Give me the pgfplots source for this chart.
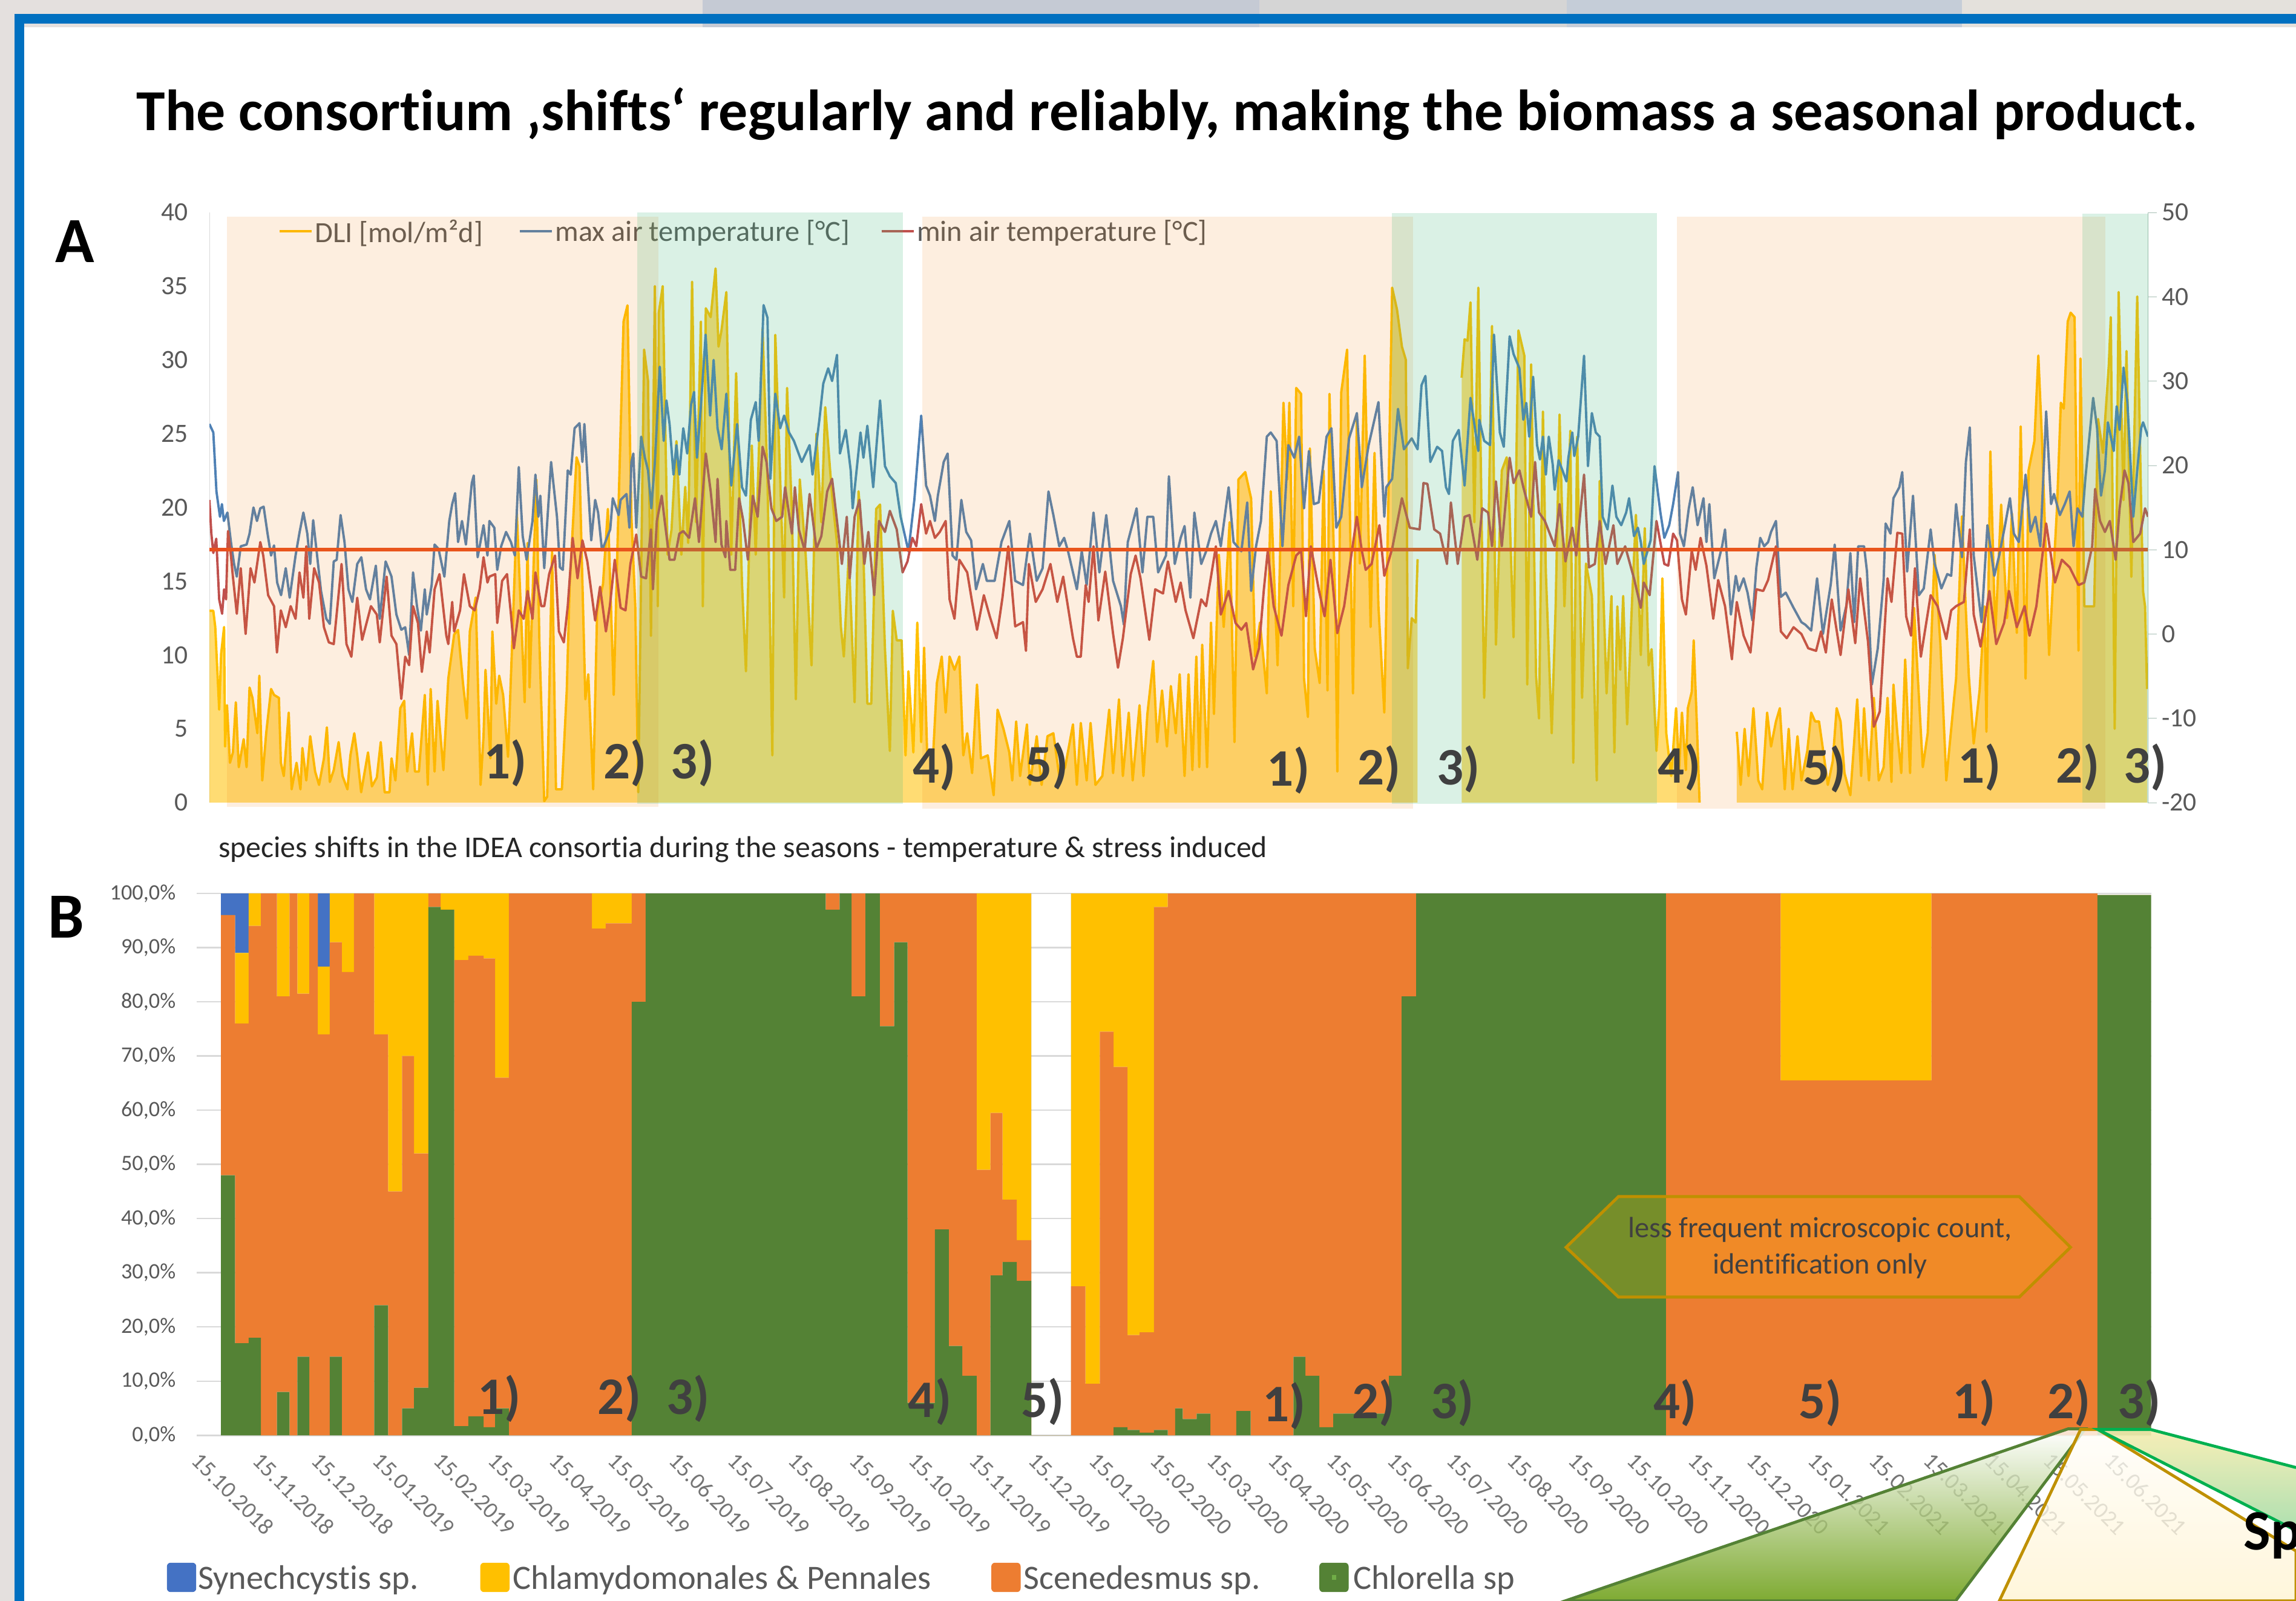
\documentclass[border=0pt]{standalone}
\usepackage{pgfplots}
\usepackage{pgfplotstable}
\usepackage{fontspec}
\setmainfont{Carlito}[Ligatures=NoCommon]
\pgfplotsset{compat=1.18}
\definecolor{dlicol}{HTML}{FFC000}
\definecolor{maxcol}{HTML}{4F81B5}
\definecolor{mincol}{HTML}{C0504D}
\definecolor{refcol}{HTML}{E8501F}
\definecolor{txt}{HTML}{595959}
\definecolor{num}{HTML}{404040}
\definecolor{bo}{HTML}{F07C09}
\definecolor{bg}{HTML}{46B97D}
\definecolor{cblue}{HTML}{4472C4}
\definecolor{cyel}{HTML}{FFC000}
\definecolor{cora}{HTML}{ED7D31}
\definecolor{cgre}{HTML}{548235}
\definecolor{frame}{HTML}{0070C0}
\definecolor{bgA}{HTML}{E4E0DE}
\definecolor{bgB}{HTML}{C5CAD4}
\definecolor{bgC}{HTML}{D5D5D5}
\definecolor{bgD}{HTML}{C5CDD8}
\definecolor{bgE}{HTML}{E4E1DC}
\definecolor{gD}{HTML}{D9D9D9}
\definecolor{gA}{HTML}{A8BFB5}
\definecolor{gDark}{HTML}{262626}
\definecolor{gDate}{HTML}{757575}
\definecolor{gold}{HTML}{BF9000}
\definecolor{calgreen}{HTML}{5F9600}
\definecolor{calmid}{HTML}{DCE6CC}
\definecolor{cream}{HTML}{FFF4D2}
\definecolor{creamtop}{HTML}{FFFEFA}
\definecolor{pale}{HTML}{F7EDB0}
\definecolor{mint}{HTML}{A5DDA8}
\definecolor{brightgreen}{HTML}{00B050}
\definecolor{dot}{HTML}{70AD47}
\newcommand{\fs}[1]{\fontsize{#1}{#1}\selectfont}
\pgfplotstableread[row sep=\\]{
x y\\
0 13\\2 13\\3 11.9\\5 6.3\\6 10.1\\7.5 11.9\\8 3.8\\9 6.6\\10.5 2.7\\12 3.4\\13.5 6.8\\15 2.4\\17.5 4.3\\19 2.4\\20.5 7.8\\22 7.1\\24.5 4.7\\25.5 8.6\\27 1.5\\29 4.7\\31.5 7.7\\33 7.3\\35.5 7.1\\36.5 2.7\\38 1.8\\40.5 6.1\\42 .9\\44.5 2.7\\46.5 .9\\47.5 3.7\\49.5 1.5\\51.5 4.5\\54 2.1\\56 1.2\\58.5 3\\60 5.1\\61.5 1.4\\63.5 2.2\\66 4.1\\68 1.8\\70.5 .9\\72 3.2\\74 4.7\\75.5 3.2\\77.5 .7\\81 3.4\\83 1.1\\85.5 1.7\\87.5 4.1\\89.5 .7\\92 .7\\93 3\\95 1.5\\97.5 6.4\\99.5 6.9\\101 2.1\\103.5 4.7\\105 2.1\\107 2.1\\110 7.3\\111.5 1.2\\113 7.7\\115 2.1\\116.5 6.9\\119.5 2.2\\122 8.4\\125 11.4\\127 11.7\\129.5 8.1\\131.5 5.7\\133 11.6\\136 13.9\\138.5 1.2\\140 4.5\\141 9\\143.5 3\\144.5 11.6\\146.5 6.7\\148 8.6\\150 7.3\\152.5 3.1\\154.5 10.4\\157 19.6\\159 13.3\\161 6.8\\162.5 17.6\\163.5 7.8\\167 21.9\\168.5 11\\171 .1\\172.5 .4\\175 17\\177 .9\\180 .9\\182.5 7.6\\184 14.8\\187.5 23.4\\189 22.8\\192 7\\193.5 8.7\\196 .9\\198 13\\201 14.8\\203.5 19.9\\206.5 7.3\\208.5 17.9\\211.5 32.6\\213.5 33.7\\215.5 19.4\\217.5 13.3\\219 .7\\222 30.7\\224 28.6\\225.5 11.3\\227.5 35\\229 13.3\\229.5 33.2\\231.5 35\\234 16.8\\236 18.5\\238.5 24.5\\241 16.8\\243 21.4\\244.5 17.6\\246.5 35.3\\248.5 19\\251 32.6\\252 13.3\\253.5 33.5\\256 32.9\\258.5 36.2\\260 30.9\\261.5 32\\
264 34.6\\266.5 16.8\\269 29.1\\272 14.8\\274 8.9\\277 24.2\\279 16.8\\282.5 32.1\\285 21.9\\287.5 3.2\\289 31.7\\291.5 21.9\\293.5 13.9\\295 28.1\\297.5 19.6\\299.5 7\\301.5 21.9\\304.5 16.8\\307.5 9.3\\310 25\\312.5 19\\314.5 26.8\\318 20.8\\320.5 17.6\\322.5 11.9\\324 9.9\\326.5 16.8\\329.5 6.8\\331.5 21.1\\334 16.8\\336 6.7\\338 6.7\\340.5 19.9\\342.5 20.2\\345 10.4\\347.5 3.5\\349 13\\351 11\\353.5 11\\355.5 3.2\\357 8.9\\359.5 3.4\\361.5 12.2\\363.5 4.1\\365 10.5\\366.5 3.5\\369.5 3\\371.5 8.1\\374 9.9\\376 6.1\\378 9.9\\380.5 9\\383 9.9\\385 3.2\\387 4.7\\389.5 2\\392 8\\394 3\\397.5 3.2\\400.5 .5\\402.5 6.3\\405.5 5\\408.5 3.4\\410 1.5\\412 5.5\\414 1.8\\417.5 5.3\\419 1.2\\422.5 4.5\\425 1.2\\428 4.5\\431 4.7\\434 1.8\\437 2.4\\441 5.3\\443 1.2\\445 5.4\\448 1.5\\450 5.4\\452.5 1.2\\456 1.8\\459.5 6.3\\461.5 2\\464.5 7\\466.5 1.8\\469.5 6.1\\471.5 1.5\\475 6.6\\477 1.8\\479 6\\482 9.6\\484 4.1\\486.5 7.6\\489 3.8\\491 7.9\\493.5 4.7\\495.5 8.7\\498 1.8\\500 8.7\\502 2.2\\504 9.9\\505.5 2.4\\507 10.7\\509.5 2.4\\511.5 12.2\\513 6\\515.5 16.8\\518 11.9\\521 19\\523.5 4.1\\525.5 21.9\\529 22.4\\532 20.6\\534 9.9\\536.5 12.2\\540 7.4\\542 21.1\\545.5 9.3\\548.5 27.1\\550.5 21.9\\551.5 27.1\\553.5 13.3\\555 28.1\\557.5 27.7\\559 8.4\\561 5.8\\562 24\\564.5 10.4\\567 8.1\\569 22.5\\571 7.6\\572 27.7\\575 13.3\\576 2.1\\578 27.8\\581 30.7\\584 7.4\\586 26.3\\587.5 16.2\\590 30.3\\593 11.9\\595 23.7\\597 13.3\\600 6.1\\602 19.9\\604 34.9\\606.5 33.4\\609 30.9\\611 30\\612 9.1\\614 12.5\\616 12.2\\617 16.5\\
}\dliA
\pgfplotstableread[row sep=\\]{
x y\\
639.5 28.8\\641 31.4\\642.5 31.3\\644 33.9\\646 19\\648 34.9\\651 7.1\\653 16.8\\655 32.3\\657 10.7\\660 22.5\\662.5 23.4\\664 19.6\\666 11.2\\668.5 32\\671.5 30.3\\673 8\\675 29.7\\677.5 8.6\\679 5.7\\681 26.5\\682.5 15.6\\685.5 4.7\\687.5 13.3\\689.5 26.3\\692 13.3\\695 25.2\\696.5 2.7\\698.5 24.8\\701 7.1\\703 16.2\\706 14\\708.5 1.5\\710 21.8\\713.5 7.4\\716 14\\717.5 3.4\\719 13.3\\720.5 9\\722 14\\724 5.3\\726.5 13.6\\728.5 19.5\\731 10\\733 18.6\\735 9.3\\736.5 10.4\\739 3.5\\740.5 6.8\\742 15.2\\744 4.7\\746.5 1.8\\749 6.4\\750.5 2.2\\752 6.1\\754 2.2\\755 6.4\\757 7.5\\758 11\\759.5 5.7\\761 0\\
}\dliB
\pgfplotstableread[row sep=\\]{
x y\\
780 4.8\\782 1.2\\784 5\\786 1.8\\788.5 6.4\\791 1.5\\793 .9\\795.5 6.1\\797.5 3.8\\800 5.5\\802 6.4\\804.5 .9\\806.5 5\\808.5 .9\\811 4.5\\813 1.5\\816 3.5\\818 6.1\\820 5.5\\822 5.5\\823.5 4.1\\826.5 1.2\\829 2.8\\831 6.4\\833 5.5\\835 2\\838 .5\\841.5 7\\843.5 1.8\\845 6.4\\847.5 1.5\\850 7.1\\852.5 1.5\\855 2.4\\857 7.1\\859 1.4\\860 8\\862 4.7\\864 2\\866 9.7\\868.5 2\\870.5 13.2\\875 2.4\\877.5 4.7\\881 16.8\\884 10.7\\887 1.5\\891 7.1\\892 8.4\\895 19.4\\897 13\\898.5 8.6\\901 4\\904 7.6\\906.5 13.3\\907.5 4.8\\909.5 23.8\\912 11.3\\915 20.2\\918 12.5\\920.5 19.6\\923 11.5\\925 25.5\\927.5 8.4\\929 22.5\\932 24.5\\934 30.3\\936 24.2\\939.5 10\\943.5 19.9\\945.5 27.1\\947 26.7\\949 32.6\\950.5 33.2\\952.5 32.9\\954.5 10.3\\955.5 30.1\\957.5 13.3\\959.5 13.3\\962.5 13.3\\964.5 26\\967 23.7\\970 29.7\\971 32.9\\973 5\\975 34.6\\977.5 20.5\\979 30.6\\981.5 15.3\\984.5 34.3\\986.5 20.2\\987.5 14.3\\988.5 13.3\\989.5 7.7\\
}\dliC
\pgfplotstableread[row sep=\\]{
x y\\
0 24.9\\2 23.9\\3.6 16.9\\5.4 13.9\\6.4 15.4\\7.4 13.4\\9.2 14.4\\11 10.9\\12.6 8.3\\14 6.8\\16 10.4\\19 10.6\\20.5 11.9\\22.5 15\\24.3 13.4\\26 14.9\\27.7 15.1\\29.7 11.9\\31.5 9.3\\33 10.5\\34.6 6.1\\36.6 4.6\\39 7.8\\41 4.3\\44 9.3\\46 12\\48 14.4\\50 11.9\\51.5 8.3\\53 13.5\\55 9.3\\57 5.1\\59.7 1.8\\61.5 1.2\\63.5 8.6\\65 8.8\\67 14.1\\69 10.9\\71 5.3\\73 3.8\\75.5 8.3\\77.6 9.1\\80 5.3\\82 4.1\\85 8.1\\87 1.8\\90 8.6\\93 6.8\\95.5 2.3\\98 .5\\100 .8\\102 -2.5\\104 7.3\\106 3.3\\108 .4\\110 5.3\\111 2.3\\113.5 5.8\\115 10.6\\117 10.1\\120 6.8\\122.5 13.4\\124 15.4\\125.5 16.7\\127 10.9\\129 13.4\\131 10.6\\134 17.9\\135 18.8\\137 9.1\\140 12.9\\142 9.3\\143 13.4\\145.5 12.6\\147 7.6\\149 10.4\\151.5 12.1\\154 10.9\\156 9.3\\158 19.8\\160 11.6\\162 8.8\\165 13.4\\166.5 18.9\\168 13.9\\169 16.4\\171 7.8\\174.5 20.4\\177.5 13.9\\179 7.9\\180.5 7.6\\183 19.4\\184.5 18.9\\186.5 24.4\\189 25\\190.5 20.4\\191.5 24.9\\195 11.1\\197 15.9\\198.5 14.4\\200.5 9.9\\203 11.4\\204.7 12.4\\206 16.1\\209 14.1\\210 15.9\\213 16.6\\214.5 12.6\\215.5 20.4\\216.5 21.4\\218 12.6\\220.5 23.4\\222.4 20.9\\224 19.4\\225.7 14.9\\227.5 20.4\\230 31.7\\232 22.9\\233.4 27.7\\235 24.9\\237 18.9\\238.5 22.4\\240 18.9\\242 24.4\\244 21.4\\246 27.2\\247.5 28.7\\249 20.9\\251 27\\253.4 35.5\\255.7 25.9\\257.5 32.5\\259.5 24.4\\261.6 21.9\\
264 28.5\\266.5 17.6\\269.5 24.9\\272 17.4\\274 16.4\\276.5 25.4\\279 27.5\\280.5 22.9\\283 39\\285 37.5\\286.5 18.4\\289 28.5\\291.5 24.4\\293.5 25.9\\296 23.9\\298.5 22.9\\302.5 20.4\\306.5 22.4\\308 18.9\\311.5 25.4\\313.5 29.7\\316 31.5\\318 30\\320.5 33.1\\322 21.4\\325 24.2\\327.5 19.4\\328.5 14.9\\332.5 23.9\\334 20.9\\336 24.7\\339 17.4\\342.5 27.7\\345 19.9\\347.5 18.7\\350.5 17.9\\353 13.9\\357 9.8\\360 15.9\\363.5 25.9\\366 17.6\\368 16.4\\370.5 13.4\\372 16.4\\375 20.4\\377 21.4\\379.5 9.3\\381.5 8.8\\384 15.9\\386.5 12.1\\389 11.1\\391.5 5.3\\395 8.3\\397 6.3\\401 6.3\\404.5 10.9\\408.5 13.4\\411.5 6.3\\415.5 5.8\\419 11.9\\422.5 6.3\\425.5 7.8\\428.5 16.9\\431 14.1\\434 10.4\\436.5 11.4\\438.5 9.8\\443 5.3\\445.5 9.8\\448 5.8\\451.5 14.4\\454.5 7.3\\458 14.1\\461.5 6.3\\465.5 3.3\\467 1.1\\469 10.9\\473.5 14.9\\476.5 7.3\\479 13.9\\482 13.9\\484.5 7.3\\488.5 9.3\\490 18.7\\493 8.3\\496 11.4\\498 12.8\\501 4.3\\503 14.4\\506.5 8.3\\509 9.8\\511.5 11.9\\514 13.4\\516.5 10.4\\520.5 17.4\\523 10.9\\527 9.8\\530 15.6\\532 5.1\\534.5 10.4\\537 13.4\\540 23.4\\542 23.9\\545 22.9\\548 10.4\\551 22.4\\554 20.9\\556.5 23.4\\559 14.9\\561.5 21.7\\564 15.4\\566.5 15.6\\570.5 23.4\\573 24.4\\575.5 12.6\\578 13.9\\582 23.2\\586 26.2\\588.5 17.4\\592 22.4\\597 27.5\\600 13.9\\601 17.4\\604 18.4\\607 26.7\\610 21.9\\614 23.2\\617 21.9\\619 29.5\\621 30.6\\623.5 20.4\\627 22.2\\629.5 21.7\\631.5 17.4\\633 16.6\\635 22.9\\638 24.2\\641 17.6\\644 28\\648 21.7\\648.5 25.4\\651 22.9\\654 22.4\\656 35.5\\659 23.9\\661 22.2\\
664 35.3\\666 33.2\\669 31.5\\671 25.4\\672.5 27.4\\674 23.4\\676 30.5\\678 22.4\\679.5 20.7\\681 23.4\\682.5 18.9\\684 23.4\\686 20.1\\687 17.1\\689 20.6\\691 19.4\\693 18.1\\694 20.9\\696 23.9\\697 21.1\\699 23.4\\702 33\\704 19.9\\706 26.2\\708 23.9\\710 23.4\\711.5 13.9\\714 12.4\\716.5 17.6\\718.5 13.9\\721 12.9\\723.5 14.4\\725 16.1\\727.5 11.6\\729.5 12.6\\731 10.9\\732.5 8.3\\736 11.1\\738 19.9\\741 14.4\\743 11.4\\745.5 12.9\\747.5 15.4\\750 19.2\\751 11.9\\753 10.4\\755.5 14.9\\757.5 17.4\\760 12.9\\763 16.1\\764.5 10.9\\766 15.4\\768.5 6.6\\772.5 10.4\\774 12.4\\777 2.3\\779.5 6.9\\781 5.1\\783.5 6.6\\785.5 4.9\\788 1.6\\790 7.9\\792 11.4\\794 10.4\\796 10.9\\797.5 12.1\\800 13.4\\802.5 4.4\\805 4.9\\809 3.1\\813 1.4\\815 1.1\\818 .4\\821 6.6\\824 0\\828 5.9\\830 10.6\\833 .4\\836 3.4\\838 9.6\\840 1.4\\842 10.4\\845 10.4\\846.5 7.4\\849 -6\\852 -1.7\\855 6.4\\856 13.1\\858.5 11.9\\860 16.1\\863 17.4\\864.5 19.2\\867 7.4\\870 16.4\\873 4.6\\875.5 5.4\\879 12.4\\881 8.4\\884.5 5.4\\887.5 7.1\\889.5 6.9\\892 15.4\\895 9.1\\897 20.4\\899 24.5\\901 9.3\\905 1.4\\908 12.9\\911.5 6.9\\914 9.3\\917 12.9\\919.5 16.1\\921.5 11.9\\924 10.9\\927.5 18.9\\930 12.1\\932.5 13.9\\935 10.4\\938 26.4\\940.5 15.4\\942 16.6\\945 14.1\\947.5 15.4\\950 16.9\\952 10.4\\954 14.9\\956.5 13.9\\958 18.4\\962 28\\964 24.4\\966 16.4\\968 19.4\\969.5 25.1\\972.5 21.7\\974 27\\975.5 24.2\\977.5 31.6\\979.5 27.4\\982.5 13.9\\984.5 19.4\\986.5 24.4\\987.5 25.1\\990 23.4\\
}\tmax
\pgfplotstableread[row sep=\\]{
x y\\
0 15.9\\1 11.9\\2 9.6\\3.5 11.3\\5 4.1\\6.5 2.4\\7.5 5.3\\8.5 4.1\\9.5 12.2\\11 9.3\\12 6.8\\14 2.4\\16 7.8\\18.5 0\\21 7.8\\23 6.1\\26 10.9\\27.5 9.3\\30 4.6\\33 3.3\\34.5 -2.2\\36.5 2.8\\39 .8\\41.5 3.3\\44 1.8\\46 7.3\\48 4.3\\49.5 10.4\\51 1.8\\53.5 7.8\\56 6.1\\58.5 .8\\61 -1\\63.5 -1.2\\67.5 8.3\\70 -1.2\\72.5 -2.7\\75.5 4.3\\78 -.7\\82.5 3.3\\85.5 2.3\\87 -1\\90.5 6.8\\93 -.2\\95.5 -1.2\\98 -7.7\\100 -2.7\\102 -3.7\\104 3.3\\106.5 1.3\\108.5 -4.5\\111 .3\\112.5 -2.2\\115 5.3\\117.5 7.1\\121 -.2\\122 -1.2\\124 3.8\\125 .3\\128 2.8\\130 7.1\\133 3.3\\135.5 2.8\\138 5.3\\140 9.1\\142 6.1\\143 6.8\\146 7.1\\147 1.3\\149.5 6.3\\152 7.1\\154 2.3\\155.5 -1.7\\158 2.8\\160.5 1.8\\162.5 5.1\\165 1.8\\166.5 7.3\\169.5 3.3\\171 3.3\\173.5 7.1\\176.5 9.3\\178.5 .3\\181 -1\\183 3.3\\185.5 11.4\\188 6.6\\190.5 11.1\\193 8.6\\197 1.6\\199.5 5.6\\202.5 .3\\204.5 3.3\\207 8.8\\210 3.1\\212.5 2.8\\215 8.3\\218 11.8\\220.5 6.8\\223 6.6\\225.5 12.4\\226.5 5.3\\228.5 13.4\\231 16.4\\232.5 13.4\\235 8.8\\237.5 8.8\\240 11.9\\242 12.2\\245 11.4\\248 16.1\\250 10.9\\253.5 21.4\\256 16.9\\258.5 10.9\\259.5 18.4\\261.5 10.6\\263.5 9.1\\
264 13.4\\266 7.6\\268.5 7.6\\270.5 16.1\\272.5 13.6\\275 8.8\\277.5 16.4\\280 13.9\\282.5 22.2\\284.5 20.4\\287 14.9\\289.5 13.4\\292.5 13.9\\294 17.4\\297.5 11.9\\299 17.4\\301 12.4\\304 9.9\\306.5 16.6\\310 10.1\\312.5 11.6\\315.5 16.9\\318 18.4\\320.5 13.4\\323 8.3\\325.5 13.9\\327 6.6\\329.5 13.9\\332 15.9\\334.5 8.3\\336.5 12.1\\339.5 4.6\\342 13.4\\345 12.1\\347.5 14.6\\351 12.4\\354 7.3\\356.5 8.6\\359 11.4\\361 10.4\\363.5 15.4\\366 11.9\\368 13.4\\370.5 11.4\\373 12.1\\376 13.4\\378 4.1\\380.5 1.8\\383 8.8\\387 7.3\\389.5 3.8\\392 .5\\395.5 4.6\\398.5 2.1\\402 -.5\\405 4.3\\408 10.4\\411.5 .9\\415.5 1.4\\417 -2\\418.5 8.3\\422 3.8\\425.5 5.3\\429.5 8.3\\433 3.8\\436 6.8\\441 -.5\\443 -2.7\\445 -2.7\\447.5 5.8\\449 3.8\\451.5 10.4\\454 1.6\\457.5 7.4\\461.5 0\\464 -4\\466.5 -.5\\470.5 7.1\\473 9.3\\475.5 6.6\\480 -.7\\483 5.3\\487 4.8\\489.5 8.6\\493.5 3.8\\496 6.1\\498.5 2.8\\502.5 -.5\\506.5 4.1\\509 3.3\\511.5 6.8\\514 10.4\\516.5 2.3\\520.5 5.1\\524 1.3\\527 .5\\529.5 1.3\\533 -4.2\\536 -1.7\\538.5 5.3\\540.5 9.9\\543.5 3.3\\547.5 -.2\\551 5.8\\555 9.3\\557.5 9.9\\560 2.1\\562.5 10.4\\566.5 5.3\\569.5 2.1\\572.5 8.8\\576 .1\\579.5 3.3\\582.5 8.3\\586 13.9\\588.5 9.9\\590.5 7.6\\593.5 8.3\\597.5 12.9\\600 6.9\\604 10.1\\609 16.1\\613 12.6\\618 12.4\\620 17.9\\622 17.8\\625.5 12.4\\628.5 11.9\\632 8.3\\634 15.6\\637.5 8.3\\641 13.9\\643.5 14.1\\647.5 8.8\\650 14.9\\653 14.4\\655 10.4\\657 18.1\\660 10.4\\664 20.9\\666 17.9\\669 19.4\\671 17.4\\675 13.9\\677 20.4\\679 14.4\\682 13.4\\684.5 11.9\\687 10.4\\689.5 15.4\\692.5 8.6\\696 12.6\\698 9.3\\702 18.9\\704.5 7.9\\707.5 8.3\\710 13.4\\713 8.3\\717 12.9\\719 8.3\\723 10.4\\727.5 6.6\\731 3.1\\732.5 6.1\\735.5 4.6\\739 13.4\\743 8.3\\745 8.1\\747.5 11.9\\749.5 11.1\\752 4.1\\754 2.3\\757 9.9\\759 7.6\\761.5 11.4\\764.5 8.1\\768 1.8\\770.5 6.4\\774 3.3\\777.5 -3\\780 3.8\\783.5 -.2\\787 -2.2\\790 5.3\\793.5 5.1\\796 6.4\\800 10.4\\802.5 .3\\805.5 -.5\\809 .8\\813 0\\816.5 -1.7\\820.5 -2\\823 .3\\825.5 -2.2\\828.5 4.1\\833 -2.5\\837 5.3\\840.5 -1.1\\843 6.6\\847 -.9\\850 -11\\853 -9.2\\857 6.6\\859 3.8\\862 12\\864.5 11.9\\866.5 2.1\\869 -.2\\871 7.8\\874 -2.7\\879 4.6\\882.5 3.3\\887 -.6\\889.5 2.8\\892 3.3\\896 3.8\\899 12.4\\901 2.3\\904.5 -1.5\\909 5.1\\912.5 -1.2\\916.5 1.3\\919 5.1\\923 .8\\927 3.3\\929.5 -.2\\933 3.3\\938 13.1\\942.5 6.1\\946 8.8\\950 7.9\\954.5 5.8\\957.5 6.1\\961.5 10.4\\963 17.2\\965.5 13.4\\968 12.1\\970.5 13.4\\973.5 8.8\\975.5 14.9\\978 19.4\\980 17.9\\982.5 10.9\\986 11.9\\988.5 14.9\\990 13.9\\
}\tmin
\pgfplotstableread[row sep=\\]{
x g o c b\\
0.7 48 48 0 4\\7.8 17 59 13 11\\14.8 18 76 6 0\\21 0 100 0 0\\29.2 8 73 19 0\\35.6 0 100 0 0\\39.6 14.5 67 18.5 0\\45.7 0 100 0 0\\50 0 74 12.5 13.5\\56.1 14.5 76.5 9 0\\62.2 0 85.5 14.5 0\\68.4 0 100 0 0\\78.7 24 50 26 0\\85.8 0 45 55 0\\92.9 5 65 30 0\\99 8.8 43.2 48 0\\106.3 97.5 2.5 0 0\\112.5 97 0 3 0\\119.5 1.7 86 12.3 0\\126.6 3.5 85 11.5 0\\134.4 1.5 86.5 12 0\\140.3 5 61 34 0\\147.3 0 100 0 0\\189.6 0 93.5 6.5 0\\196.6 0 94.5 5.5 0\\209.8 80 20 0 0\\216.9 100 0 0 0\\308.6 97 3 0 0\\315.7 100 0 0 0\\321.8 81 19 0 0\\328.9 100 0 0 0\\336.2 75.5 24.5 0 0\\343.5 91 9 0 0\\350.3 6 94 0 0\\364.2 38 62 0 0\\371.3 16.5 83.5 0 0\\378.2 11 89 0 0\\385.5 0 49 51 0\\392.5 29.5 30 40.5 0\\398.7 32 11.5 56.5 0\\405.9 28.5 7.5 64 0\\413.3 0 0 0 0\\433.6 0 27.5 72.5 0\\440.9 0 9.5 90.5 0\\448.2 0 74.5 25.5 0\\455.2 1.5 66.5 32 0\\462.3 1 17.5 81.5 0\\468.5 .5 18.5 81 0\\475.8 1 96.5 2.5 0\\482.8 0 100 0 0\\486.6 5 95 0 0\\490.4 3 97 0 0\\497.5 4 96 0 0\\504.5 0 100 0 0\\517.7 4.5 95.5 0 0\\525 0 100 0 0\\546.8 14.5 85.5 0 0\\552.9 11 89 0 0\\560 1.5 98.5 0 0\\567.1 4 96 0 0\\595.4 11 89 0 0\\601.9 81 19 0 0\\609.3 100 0 0 0\\736.5 0 100 0 0\\794.9 0 65.5 34.5 0\\871.7 0 100 0 0\\956.2 99.7 0 0 0\\983.6 99.7 0 0 0\\
}\shares
\begin{document}
\begin{tikzpicture}[x=1pt,y=-1pt]
\path[use as bounding box,clip] (0,0) rectangle (1568,1093);
\fill[white] (0,0) rectangle (1568,1093);
\fill[bgA] (0,0) rectangle (480,18.6);
\fill[bgB] (480,0) rectangle (860,18.6);
\fill[bgC] (860,0) rectangle (1070,18.6);
\fill[bgD] (1070,0) rectangle (1340,18.6);
\fill[bgE] (1340,0) rectangle (1568,18.6);
\fill[bgA] (0,0) rectangle (10,1093);
\fill[frame] (10,9.6) rectangle (1568,16);
\fill[frame] (10,9.6) rectangle (16.5,1093);
\node[anchor=base west,inner sep=0pt,font=\fs{39.65}\bfseries] at (93,89) {The consortium ‚shifts‘ regularly and reliably, making the biomass a seasonal product.};
\node[font=\fs{44}\bfseries] at (51,165) {A};
\node[font=\fs{44}\bfseries] at (45,626) {B};
% Panel A, left axis
\begin{axis}[name=A,at={(143pt,-548pt)},anchor=south west,width=1324pt,height=403pt,scale only axis,
  xmin=0,xmax=990,ymin=0,ymax=40,ytick={0,5,...,40},
  axis y line*=left,axis x line=none,
  y axis line style={draw=gD,-},
  major tick length=0pt,tick label style={font=\fs{18},text=txt},
  yticklabel style={xshift=-11pt},
  /pgf/number format/assume math mode=true]
\addplot[fill=dlicol,fill opacity=.55,draw=none] table[x=x,y=y] {\dliA} \closedcycle;
\addplot[fill=dlicol,fill opacity=.55,draw=none] table[x=x,y=y] {\dliB} \closedcycle;
\addplot[fill=dlicol,fill opacity=.55,draw=none] table[x=x,y=y] {\dliC} \closedcycle;
\addplot[dlicol,line width=1.6pt,line join=round] table[x=x,y=y] {\dliA};
\addplot[dlicol,line width=1.6pt,line join=round] table[x=x,y=y] {\dliB};
\addplot[dlicol,line width=1.6pt,line join=round] table[x=x,y=y] {\dliC};
\end{axis}
% Panel A, right axis
\begin{axis}[at={(143pt,-548pt)},anchor=south west,width=1324pt,height=403pt,scale only axis,
  xmin=0,xmax=990,ymin=-20,ymax=50,ytick={-20,-10,...,50},
  axis y line*=right,axis x line=none,
  y axis line style={draw=gA,-},
  ytick style={draw=gA},tick align=outside,major tick length=6pt,
  tick label style={font=\fs{18},text=txt},
  /pgf/number format/assume math mode=true]
\addplot[maxcol,line width=1.6pt,line join=round] table[x=x,y=y] {\tmax};
\addplot[mincol,line width=1.6pt,line join=round] table[x=x,y=y] {\tmin};
\addplot[refcol,line width=2.2pt] coordinates {(0,10)(990,10)};
\end{axis}
% Panel A legend
\begin{scope}[font=\fs{20}]
\draw[dlicol,line width=1.7pt] (191,158)--(213,158);
\node[anchor=west,inner sep=0pt,text=txt] at (215,159) {DLI [mol/m²d]};
\draw[maxcol,line width=1.7pt] (355,158)--(377,158);
\node[anchor=west,inner sep=0pt,text=txt] at (379,159) {max air temperature [°C]};
\draw[mincol,line width=1.7pt] (602,158)--(624,158);
\node[anchor=west,inner sep=0pt,text=txt] at (626,159) {min air temperature [°C]};
\end{scope}
% season bands
\fill[bo,opacity=.13] (155,148) rectangle (449.5,551);
\fill[bo,opacity=.13] (630,148) rectangle (965,552);
\fill[bo,opacity=.13] (1145,148) rectangle (1438,552);
\fill[bg,opacity=.2] (435,145) rectangle (616.6,549);
\fill[bg,opacity=.2] (950.6,145.5) rectangle (1131.6,549);
\fill[bg,opacity=.2] (1422.2,146) rectangle (1467,548);
\node[anchor=west,inner sep=0pt,font=\fs{20.6},text=gDark] at (149,580) {species shifts in the IDEA consortia during the seasons - temperature \& stress induced};
% Panel B
\begin{axis}[at={(150pt,-980pt)},anchor=south west,width=1319pt,height=370pt,scale only axis,
  xmin=0,xmax=983.6,ymin=0,ymax=100,
  stack plots=y,area style,axis on top=false,
  ytick={0,10,...,100},
  yticklabels={0{,}0\%,10{,}0\%,20{,}0\%,30{,}0\%,40{,}0\%,50{,}0\%,60{,}0\%,70{,}0\%,80{,}0\%,90{,}0\%,100{,}0\%},
  xtick={0,31,61,92,123,151,182,212,243,273,304,335,365,396,426,457,488,517,548,578,609,639,670,701,731,762,792,823,854,882,913,943,974},
  xticklabels={15.10.2018,15.11.2018,15.12.2018,15.01.2019,15.02.2019,15.03.2019,15.04.2019,15.05.2019,15.06.2019,15.07.2019,15.08.2019,15.09.2019,15.10.2019,15.11.2019,15.12.2019,15.01.2020,15.02.2020,15.03.2020,15.04.2020,15.05.2020,15.06.2020,15.07.2020,15.08.2020,15.09.2020,15.10.2020,15.11.2020,15.12.2020,15.01.2021,15.02.2021,15.03.2021,15.04.2021,15.05.2021,15.06.2021},
  axis x line*=bottom,axis y line*=left,
  x axis line style={draw=gD,-},y axis line style={draw=none},
  ymajorgrids,grid style={draw=gD,line width=1pt},
  tick align=outside,major tick length=15.5pt,
  ytick style={draw=gD,line width=1pt},xtick style={draw=none},
  yticklabel style={font=\fs{15},text=txt,xshift=-11pt},
  xticklabel style={font=\fs{15.7},text=gDate,xshift=9pt,yshift=-24.5pt,rotate=-45,anchor=center}]
\addplot[fill=cgre,draw=none,const plot] table[x=x,y=g] {\shares} \closedcycle;
\addplot[fill=cora,draw=none,const plot] table[x=x,y=o] {\shares} \closedcycle;
\addplot[fill=cyel,draw=none,const plot] table[x=x,y=c] {\shares} \closedcycle;
\addplot[fill=cblue,draw=none,const plot] table[x=x,y=b] {\shares} \closedcycle;
\end{axis}
% annotation
\draw[gold,line width=2pt,fill=cyel,fill opacity=.2] (1069.5,851.6)--(1105.3,817)--(1379,817)--(1414,851.6)--(1379,885.6)--(1105.3,885.6)--cycle;
\node[font=\fs{20},text=num,align=center,inner sep=0pt] at (1243,852) {less frequent microscopic count,\\[5pt]identification only};
% period numbers
\foreach \t/\x/\y in {1)/345/521,2)/427/521,3)/473/521,4)/638/524,5)/715/523,1)/880/526,2)/942/525,3)/996/525,4)/1147/524,5)/1246/525,1)/1352/524,2)/1419/524,3)/1465/524,1)/341/955,2)/423/955,3)/470/955,4)/635/957,5)/712/957,1)/877/960,2)/938/958,3)/992/958,4)/1144/958,5)/1243/958,1)/1348/958,2)/1413/958,3)/1461/958}
  \node[font=\fs{36}\bfseries,text=num,inner sep=0pt] at (\x,\y) {\t};
% call-outs
\path[fill opacity=.8,draw=cgre,line width=2pt,top color=white,middle color=calmid,bottom color=calgreen] (1412.3,975.6)--(1069,1093)--(1335.6,1093)--(1424,975.6)--cycle;
\path[fill opacity=.8,draw=gold,line width=2pt,top color=creamtop,bottom color=cream] (1420.9,976)--(1365.4,1093)--(1568,1093)--(1568,1059)--(1432.6,976)--cycle;
\path[fill opacity=.9,top color=pale,bottom color=mint] (1432.6,976)--(1568,1045)--(1568,1002)--(1468.6,976)--cycle;
\draw[brightgreen,line width=2pt] (1568,1002)--(1468.6,976)--(1432.6,976)--(1568,1045);
\node[anchor=base west,inner sep=0pt,font=\fs{39}\bfseries] at (1532,1058) {Sp};
% legend of B
\begin{scope}[font=\fs{23.3}]
\fill[cblue,rounded corners=2.5pt] (114,1067) rectangle (134,1087);
\node[anchor=base west,inner sep=0pt,text=txt] at (135,1085) {Synechcystis sp.};
\fill[cyel,rounded corners=2.5pt] (328,1067) rectangle (348,1087);
\node[anchor=base west,inner sep=0pt,text=txt] at (350,1085) {Chlamydomonales \& Pennales};
\fill[cora,rounded corners=2.5pt] (677,1067) rectangle (697,1087);
\node[anchor=base west,inner sep=0pt,text=txt] at (699,1085) {Scenedesmus sp.};
\fill[cgre,rounded corners=2.5pt] (901,1067) rectangle (921,1087);
\fill[dot] (909.5,1075.5) rectangle (912.5,1078.5);
\node[anchor=base west,inner sep=0pt,text=txt] at (924,1085) {Chlorella sp};
\end{scope}
\end{tikzpicture}
\end{document}
